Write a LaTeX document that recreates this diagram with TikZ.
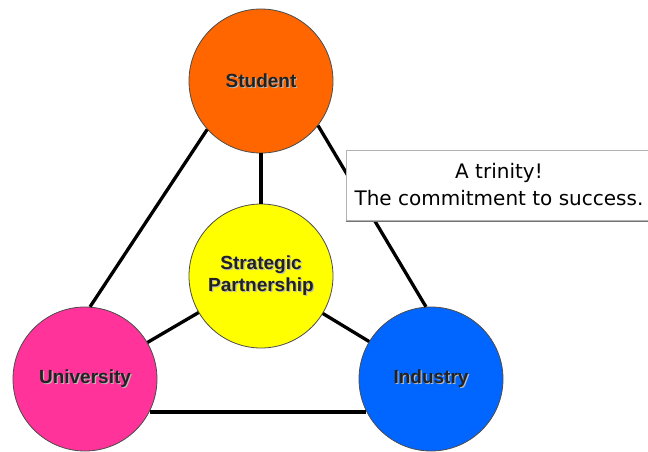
\documentclass[tikz,border=0pt]{standalone}
\usepackage{fontspec}
\usetikzlibrary{shadows}
\newfontfamily\labfont{Liberation Sans}
\newfontfamily\callfont{DejaVu Sans}
\definecolor{cstudent}{HTML}{FF6600}
\definecolor{cstrat}{HTML}{FFFF00}
\definecolor{cuni}{HTML}{FF3399}
\definecolor{cind}{HTML}{0066FF}
\definecolor{labtext}{HTML}{222222}
\definecolor{labshadow}{HTML}{B8B8B8}
\newcommand\shtext[1]{\makebox[0pt][l]{\hspace{1.2pt}\raisebox{-1.2pt}{\color{labshadow}#1}}#1}
\begin{document}
\begin{tikzpicture}[x=1pt,y=-1pt,
  ball/.style={circle, draw=black!70, line width=0.8pt, minimum size=144pt, inner sep=0pt,
    font=\labfont\bfseries\fontsize{19}{22}\selectfont, text=labtext, align=center},
  link/.style={line width=3.3pt, black},
  calloutbox/.style={draw=black!30, line width=0.8pt, fill=white, minimum width=306pt, minimum height=70pt,
    inner sep=0pt, align=center, font=\callfont\fontsize{20}{27}\selectfont, text=black,
    drop shadow={shadow xshift=0pt, shadow yshift=-2pt, fill=black!55, opacity=1}}
]
\useasboundingbox (0,0) rectangle (648,451);
\clip (0,0) rectangle (648,451);
\fill[white] (0,0) rectangle (648,451);
\node[ball, fill=cstudent] (st) at (261,81) {\shtext{Student}};
\node[ball, fill=cstrat] (sp) at (261,276) {\shtext{Strategic}\\\shtext{Partnership}};
\node[ball, fill=cuni] (un) at (85,379) {\shtext{University}};
\node[ball, fill=cind] (in) at (431,379) {\shtext{Industry}};
\draw[link] (st.222) -- (un.86);
\draw[link] (st.322) -- (in.94);
\draw[link] (un.-27) -- (in.207);
\draw[link] (st) -- (sp);
\draw[link] (sp) -- (un);
\draw[link] (sp) -- (in);
\node[calloutbox] (call) at (499,185) {A trinity!\\The commitment to success.};
\end{tikzpicture}
\end{document}
